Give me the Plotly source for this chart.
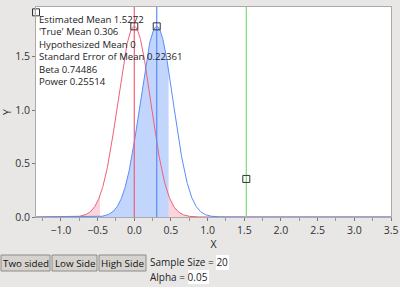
import numpy as np
import plotly.graph_objects as go

# ---- data ----
est_mean = 1.5272
true_mean = 0.306
hyp_mean = 0.0
se_mean = 0.22361
beta = 0.74486
power = 0.25514
crit = 0.468          # critical boundary read from the shading
green_marker_y = 0.356
x_range = [-1.34, 3.5]
y_range = [0, 1.965]
info_lines = [
    "Estimated Mean 1.5272",
    "'True' Mean 0.306",
    "Hypothesized Mean 0",
    "Standard Error of Mean 0.22361",
    "Beta 0.74486",
    "Power 0.25514",
]
button_labels = ["Two sided", "Low Side", "High Side"]
sample_size = "20"
alpha = "0.05"

def pdf(x, m, s):
    return np.exp(-0.5 * ((x - m) / s) ** 2) / (s * np.sqrt(2 * np.pi))

xs = np.linspace(x_range[0], x_range[1], 1200)
red_y = pdf(xs, hyp_mean, se_mean)
blue_y = pdf(xs, true_mean, se_mean)
peak = pdf(0, 0, se_mean)

RED = "rgb(240,95,120)"
BLUE = "rgb(90,140,250)"
GREEN = "rgb(120,222,120)"
BG = "rgb(232,231,229)"
FONT = "Open Sans"

fig = go.Figure()

# red tails shading
for lo, hi in [(x_range[0], -crit), (crit, x_range[1])]:
    xx = np.linspace(lo, hi, 300)
    fig.add_trace(go.Scatter(x=xx, y=pdf(xx, hyp_mean, se_mean), fill="tozeroy",
                             fillcolor="rgba(245,150,165,0.4)", line=dict(width=0),
                             mode="lines", hoverinfo="skip", showlegend=False))
# blue acceptance shading
xx = np.linspace(-crit, crit, 400)
fig.add_trace(go.Scatter(x=xx, y=pdf(xx, true_mean, se_mean), fill="tozeroy",
                         fillcolor="rgba(110,155,250,0.42)", line=dict(width=0),
                         mode="lines", hoverinfo="skip", showlegend=False))

fig.add_trace(go.Scatter(x=xs, y=red_y, mode="lines", line=dict(color=RED, width=1),
                         showlegend=False))
fig.add_trace(go.Scatter(x=xs, y=blue_y, mode="lines", line=dict(color=BLUE, width=1),
                         showlegend=False))

# vertical lines
for xv, c in [(hyp_mean, RED), (true_mean, BLUE), (est_mean, GREEN)]:
    fig.add_trace(go.Scatter(x=[xv, xv], y=y_range, mode="lines",
                             line=dict(color=c, width=1.2), showlegend=False))

# markers
fig.add_trace(go.Scatter(
    x=[hyp_mean, true_mean, est_mean, x_range[0]],
    y=[peak, peak, green_marker_y, 1.915],
    mode="markers",
    marker=dict(symbol="square-open", size=7, color="#333", line=dict(width=1)),
    cliponaxis=False, showlegend=False))

# info text block
fig.add_annotation(x=x_range[0], xanchor="left", xshift=1,
                   y=(216.7 - 11) / 106.7, yanchor="top",
                   text="<br>".join(info_lines), showarrow=False, align="left",
                   font=dict(family=FONT, size=9.6, color="#222"))

# pixel -> paper helpers (plot area: x 36..391, y 7..217)
def px(xp):
    return (xp - 36) / 355.0

def py(yp):
    return (217 - yp) / 210.0

# buttons
btns = [(1, 50), (52, 97), (99, 146)]
for (x0, x1), lab in zip(btns, button_labels):
    fig.add_shape(type="rect", xref="paper", yref="paper",
                  x0=px(x0), x1=px(x1), y0=py(271), y1=py(255),
                  fillcolor="rgb(214,211,206)", line=dict(color="rgb(140,140,140)", width=1))
    fig.add_annotation(xref="paper", yref="paper", x=px((x0 + x1) / 2), y=py(263),
                       text=lab, showarrow=False, xanchor="center", yanchor="middle",
                       font=dict(family=FONT, size=9.8, color="#111"))

# input boxes
fig.add_shape(type="rect", xref="paper", yref="paper", x0=px(216), x1=px(229),
              y0=py(270), y1=py(255), fillcolor="white", line=dict(width=0))
fig.add_shape(type="rect", xref="paper", yref="paper", x0=px(188), x1=px(209),
              y0=py(284), y1=py(270), fillcolor="white", line=dict(width=0))
fig.add_annotation(xref="paper", yref="paper", x=px(148), y=py(262), xanchor="left",
                   yanchor="middle", text="Sample Size = " + sample_size, showarrow=False,
                   font=dict(family=FONT, size=10, color="#222"))
fig.add_annotation(xref="paper", yref="paper", x=px(148), y=py(277), xanchor="left",
                   yanchor="middle", text="Alpha = " + alpha, showarrow=False,
                   font=dict(family=FONT, size=10, color="#222"))

axis_common = dict(showgrid=False, zeroline=False, showline=True, mirror=True,
                   linecolor="rgb(170,170,170)", linewidth=1, ticks="outside",
                   ticklen=3, tickcolor="rgb(120,120,120)", automargin=False,
                   tickfont=dict(family=FONT, size=10.5, color="#333"))

fig.update_xaxes(range=x_range, dtick=0.5, tick0=0, tickformat=".1f",
                 minor=dict(dtick=0.25, ticks="outside", ticklen=3, tickcolor="rgb(150,150,150)"),
                 title=dict(text="X", font=dict(family=FONT, size=10.5, color="#222"), standoff=4),
                 **axis_common)
fig.update_yaxes(range=y_range, dtick=0.5, tick0=0, tickformat=".1f",
                 title=dict(text="Y", font=dict(family=FONT, size=10.5, color="#222"), standoff=8),
                 **axis_common)

fig.update_layout(width=400, height=287, margin=dict(l=36, r=9, t=7, b=70),
                  paper_bgcolor=BG, plot_bgcolor="white", showlegend=False)

fig.write_html("out.html")
